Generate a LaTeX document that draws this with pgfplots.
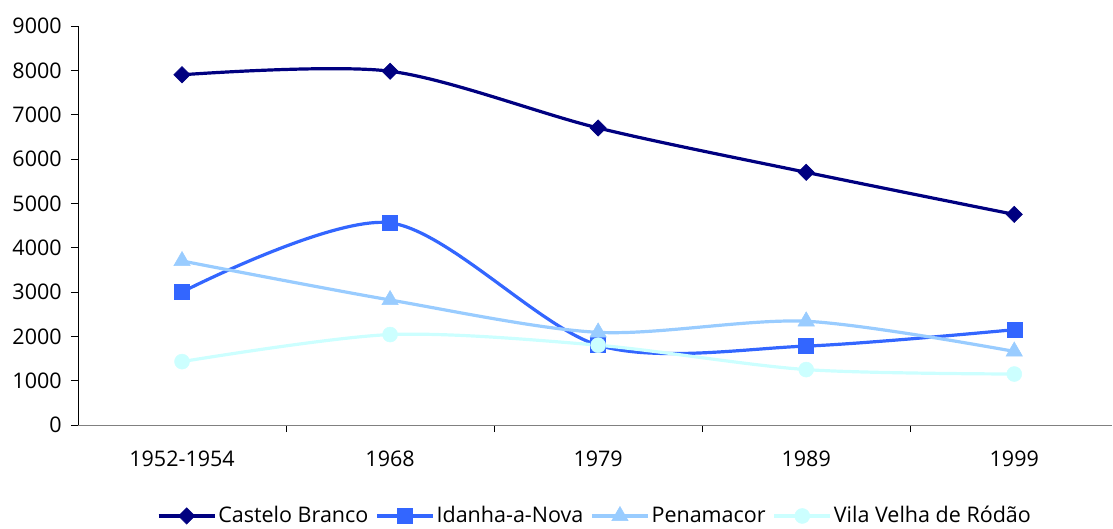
\documentclass[border=0pt]{standalone}
\usepackage{fontspec}
\setmainfont{Open Sans}
\usepackage{pgfplots}
\pgfplotsset{compat=1.18}
\definecolor{cb}{HTML}{000080}
\definecolor{idn}{HTML}{3366FF}
\definecolor{pen}{HTML}{99CCFF}
\definecolor{vvr}{HTML}{CCFFFF}
\begin{document}
\fontsize{21.5pt}{25pt}\selectfont
\begin{tikzpicture}
\begin{axis}[
  scale only axis,
  width=1034pt, height=399pt,
  xmin=-0.5, xmax=4.47,
  ymin=0, ymax=9000,
  ytick={0,1000,...,9000},
  axis lines=left,
  axis line style={-},
  x axis line style={draw=gray, line width=1pt},
  y axis line style={draw=black, line width=0.8pt},
  tick align=outside,
  major tick length=7pt,
  tick style={black, line width=0.8pt},
  xtick={0.5,1.5,2.5,3.5},
  xticklabels={},
  extra x ticks={0,1,2,3,4},
  extra x tick labels={1952-1954,1968,1979,1989,1999},
  extra x tick style={major tick length=0pt, tick label style={yshift=-19pt}},
  /pgf/number format/1000 sep={},
  /pgf/number format/assume math mode=true,
  tick label style={font=\fontsize{21.5pt}{25pt}\selectfont, text=black},
  yticklabel style={xshift=-2pt},
  legend style={at={(0.5,-0.228)}, anchor=center, draw=none, fill=none,
    legend columns=4, font=\fontsize{21.5pt}{25pt}\selectfont,
    /tikz/every even column/.append style={column sep=5pt},
    inner sep=0pt},
  legend image code/.code={\draw[mark repeat=2,mark phase=2] plot coordinates {(0pt,0pt) (28pt,0pt) (56pt,0pt)};},
]
\addplot[color=cb, line width=3.2pt, smooth, tension=0.5, mark=square*, mark size=5.8pt, mark options={rotate=45, solid, line width=0.5pt}] coordinates {(0,7900) (1,7980) (2,6700) (3,5700) (4,4750)};
\addlegendentry{Castelo Branco}
\addplot[color=idn, line width=3.2pt, smooth, tension=0.5, mark=square*, mark size=7.5pt, mark options={solid, line width=0.5pt}] coordinates {(0,3000) (1,4560) (2,1800) (3,1780) (4,2150)};
\addlegendentry{Idanha-a-Nova}
\addplot[color=pen, line width=3.2pt, smooth, tension=0.5, mark=triangle*, mark size=9.5pt, mark options={solid, line width=0.5pt}] coordinates {(0,3700) (1,2820) (2,2090) (3,2340) (4,1660)};
\addlegendentry{Penamacor}
\addplot[color=vvr, line width=3.2pt, smooth, tension=0.5, mark=*, mark size=7.5pt, mark options={solid, line width=0.5pt}] coordinates {(0,1430) (1,2040) (2,1800) (3,1250) (4,1150)};
\addlegendentry{Vila Velha de Ródão}
\end{axis}
\pgfresetboundingbox
\path[use as bounding box] (-78pt,-103pt) rectangle (1035pt,425pt);
\end{tikzpicture}
\end{document}
